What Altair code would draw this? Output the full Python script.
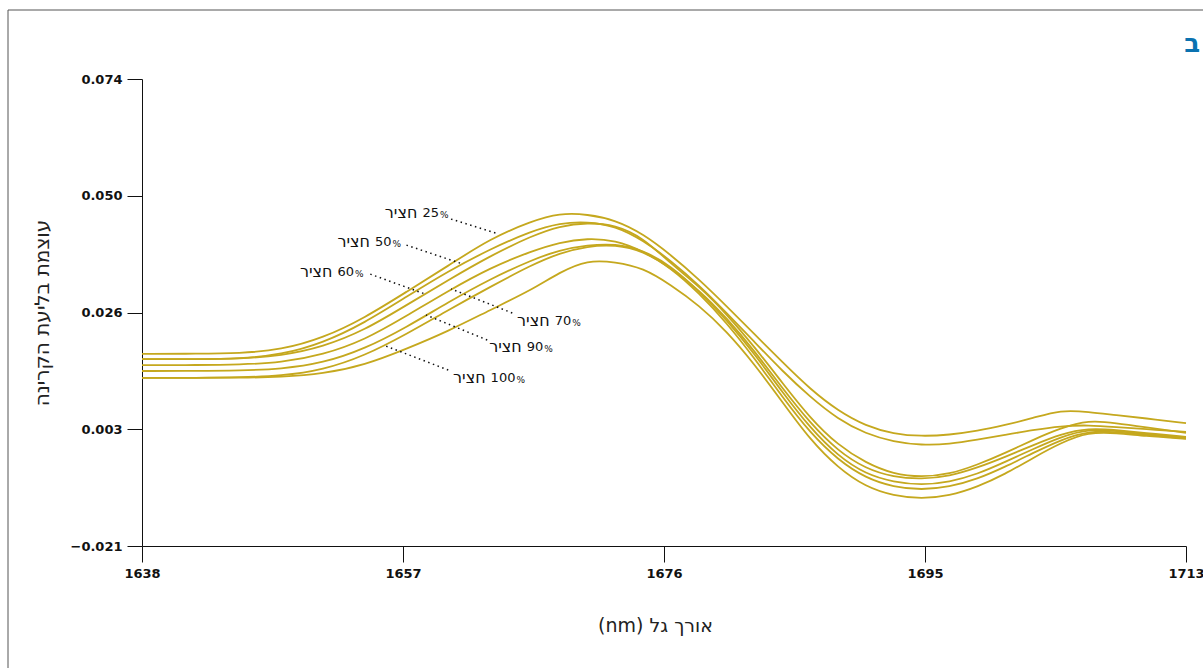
import altair as alt
import pandas as pd

# Wavelength grid (nm) shared by all spectra
WAVELENGTHS = [1638, 1642, 1645, 1648, 1651, 1654, 1657, 1660, 1663, 1666, 1668,
               1670, 1672, 1674, 1676, 1678, 1680, 1682, 1684, 1686, 1688, 1690,
               1692, 1694, 1696, 1698, 1700, 1702, 1704, 1706, 1708, 1710, 1713]

# Absorbance spectra, one list per hay share
HAY_25 = [0.0181, 0.0181, 0.0182, 0.0189, 0.0213, 0.0254, 0.0307, 0.0360, 0.0415, 0.0451, 0.0467,
          0.0465, 0.0453, 0.0425, 0.0382, 0.0333, 0.0278, 0.0221, 0.0164, 0.0109, 0.0065, 0.0034,
          0.0018, 0.0013, 0.0016, 0.0024, 0.0036, 0.0050, 0.0067, 0.0063, 0.0056, 0.0050, 0.0040]
HAY_50 = [0.0170, 0.0170, 0.0171, 0.0179, 0.0203, 0.0244, 0.0297, 0.0349, 0.0394, 0.0431, 0.0447,
          0.0450, 0.0441, 0.0412, 0.0370, 0.0321, 0.0264, 0.0205, 0.0146, 0.0093, 0.0048, 0.0018,
          0.0002, -0.0005, -0.0003, 0.0006, 0.0016, 0.0026, 0.0034, 0.0036, 0.0032, 0.0028, 0.0022]
HAY_60 = [0.0170, 0.0170, 0.0171, 0.0177, 0.0195, 0.0229, 0.0280, 0.0331, 0.0380, 0.0421, 0.0441,
          0.0448, 0.0443, 0.0417, 0.0364, 0.0319, 0.0262, 0.0195, 0.0122, 0.0050, -0.0005, -0.0041,
          -0.0064, -0.0070, -0.0064, -0.0045, -0.0021, 0.0006, 0.0030, 0.0046, 0.0040, 0.0032, 0.0020]
HAY_70 = [0.0158, 0.0158, 0.0159, 0.0163, 0.0179, 0.0209, 0.0258, 0.0309, 0.0356, 0.0390, 0.0408,
          0.0416, 0.0412, 0.0390, 0.0356, 0.0311, 0.0254, 0.0187, 0.0111, 0.0040, -0.0017, -0.0053,
          -0.0070, -0.0074, -0.0068, -0.0051, -0.0029, -0.0005, 0.0018, 0.0030, 0.0026, 0.0020, 0.0012]
HAY_90 = [0.0146, 0.0146, 0.0147, 0.0150, 0.0162, 0.0191, 0.0235, 0.0286, 0.0333, 0.0372, 0.0392,
          0.0402, 0.0405, 0.0392, 0.0360, 0.0309, 0.0250, 0.0181, 0.0103, 0.0030, -0.0027, -0.0064,
          -0.0080, -0.0086, -0.0080, -0.0064, -0.0039, -0.0013, 0.0012, 0.0028, 0.0024, 0.0018, 0.0010]
HAY_100 = [0.0132, 0.0132, 0.0133, 0.0136, 0.0148, 0.0177, 0.0221, 0.0270, 0.0317, 0.0362, 0.0386,
           0.0400, 0.0403, 0.0390, 0.0356, 0.0305, 0.0244, 0.0172, 0.0093, 0.0020, -0.0035, -0.0072,
           -0.0090, -0.0096, -0.0090, -0.0074, -0.0049, -0.0021, 0.0006, 0.0024, 0.0022, 0.0016, 0.0009]
SAMPLE_7 = [0.0132, 0.0132, 0.0132, 0.0134, 0.0140, 0.0158, 0.0191, 0.0227, 0.0270, 0.0311, 0.0347,
            0.0372, 0.0368, 0.0356, 0.0321, 0.0280, 0.0227, 0.0160, 0.0083, 0.0006, -0.0051, -0.0090,
            -0.0108, -0.0114, -0.0108, -0.0090, -0.0064, -0.0031, 0.0000, 0.0022, 0.0020, 0.0014, 0.0008]

SERIES_NAMES = ["25", "50", "60", "70", "90", "100", "s7"]
SERIES_VALUES = [HAY_25, HAY_50, HAY_60, HAY_70, HAY_90, HAY_100, SAMPLE_7]

# Callout labels: word, share number, anchor point (gap between word and number),
# and the dotted leader from label to curve
LABEL_WORD = "חציר"
LABEL_NUM = ["25", "50", "60", "70", "90", "100"]
LABEL_X = [1658.0, 1654.6, 1651.9, 1667.5, 1665.5, 1662.9]
LABEL_Y = [0.0467, 0.0408, 0.0347, 0.0248, 0.0195, 0.0132]
LEADER_X1 = [1660.2, 1657.0, 1654.4, 1664.6, 1662.8, 1660.0]
LEADER_Y1 = [0.0455, 0.0402, 0.0343, 0.0264, 0.0209, 0.0148]
LEADER_X2 = [1663.6, 1661.0, 1658.3, 1660.2, 1658.4, 1655.5]
LEADER_Y2 = [0.0425, 0.0364, 0.0303, 0.0313, 0.0260, 0.0197]

# Axis ticks and their printed labels
X_TICKS = [1638, 1656.75, 1675.5, 1694.25, 1713]
X_TICK_LABELS = ["1638", "1657", "1676", "1695", "1713"]
Y_TICKS = [-0.021, 0.00275, 0.0265, 0.05025, 0.074]
Y_TICK_LABELS = ["\u22120.021", "0.003", "0.026", "0.050", "0.074"]

LINE_COLOR = "#C5A81E"
FONT = "DejaVu Sans"
LABEL_SIZE = 13
WORD_SIZE = 16
DIGIT_W = 0.636 * LABEL_SIZE  # advance of one digit in the label font
W, H = 1044, 467
X_MIN, X_MAX = 1638, 1713
PX_PER_NM = W / (X_MAX - X_MIN)


def label_expr(values, labels):
    expr = "datum.label"
    for v, lab in reversed(list(zip(values, labels))):
        expr = f"abs(datum.value - ({v})) < 1e-6 ? '{lab}' : {expr}"
    return expr


rows = []
for name, vals in zip(SERIES_NAMES, SERIES_VALUES):
    for wl, v in zip(WAVELENGTHS, vals):
        rows.append({"wl": wl, "val": v, "series": name})
spectra = pd.DataFrame(rows)

labels = pd.DataFrame({
    "word": [LABEL_WORD] * len(LABEL_NUM),
    "num": LABEL_NUM,
    "x": LABEL_X,
    "y": LABEL_Y,
    # the small percent sign sits right after the number
    "pct_x": [x + (3 + DIGIT_W * len(n)) / PX_PER_NM for x, n in zip(LABEL_X, LABEL_NUM)],
})
leaders = pd.DataFrame({"x1": LEADER_X1, "y1": LEADER_Y1, "x2": LEADER_X2, "y2": LEADER_Y2})

x_scale = alt.Scale(domain=[X_MIN, X_MAX], nice=False, zero=False)
y_scale = alt.Scale(domain=[-0.021, 0.074], nice=False, zero=False)

axis_style = dict(
    labelFont=FONT, labelFontSize=13, labelFontWeight="bold", labelColor="#111",
    domainColor="#111", tickColor="#111", domainWidth=1, tickWidth=1,
    titleFontWeight="normal", titleFont=FONT, titleColor="#222",
    titleBaseline="middle", labelPadding=5, labelFlush=False, labelOverlap=False,
    grid=False,
)

x_axis = alt.Axis(
    values=X_TICKS, labelExpr=label_expr(X_TICKS, X_TICK_LABELS),
    title="(nm) אורך גל", titleX=513, titleY=79, titleFontSize=19, tickSize=16,
    **axis_style,
)
y_axis = alt.Axis(
    values=Y_TICKS, labelExpr=label_expr(Y_TICKS, Y_TICK_LABELS),
    title="עוצמת בליעת הקרינה", titleX=-100, titleY=H / 2, titleFontSize=20,
    tickSize=15, **axis_style,
)

lines = alt.Chart(spectra).mark_line(
    interpolate="basis", color=LINE_COLOR, strokeWidth=1.8
).encode(
    x=alt.X("wl:Q", scale=x_scale, axis=x_axis),
    y=alt.Y("val:Q", scale=y_scale, axis=y_axis),
    detail="series:N",
)

leader_rules = alt.Chart(leaders).mark_rule(
    color="#111", strokeWidth=1.5, strokeDash=[1.5, 3.5]
).encode(
    x=alt.X("x1:Q", scale=x_scale), y=alt.Y("y1:Q", scale=y_scale),
    x2="x2:Q", y2="y2:Q",
)

word_text = alt.Chart(labels).mark_text(
    align="right", baseline="middle", font=FONT, fontSize=WORD_SIZE, color="#111", dx=-3
).encode(x=alt.X("x:Q", scale=x_scale), y=alt.Y("y:Q", scale=y_scale), text="word:N")
num_text = alt.Chart(labels).mark_text(
    align="left", baseline="middle", font=FONT, fontSize=LABEL_SIZE, color="#111", dx=2
).encode(x=alt.X("x:Q", scale=x_scale), y=alt.Y("y:Q", scale=y_scale), text="num:N")
pct_text = alt.Chart(labels).mark_text(
    align="left", baseline="middle", font=FONT, fontSize=9, color="#111", dy=2
).encode(x=alt.X("pct_x:Q", scale=x_scale), y=alt.Y("y:Q", scale=y_scale),
         text=alt.value("%"))

# Panel letter in the top-right corner
panel_letter = alt.Chart(pd.DataFrame({"t": ["ב"]})).mark_text(
    align="right", baseline="alphabetic", font=FONT, fontSize=26, fontWeight="bold",
    color="#0A72B0"
).encode(x=alt.value(W + 14), y=alt.value(-27), text="t:N")

# Thin frame around the figure
frame = alt.Chart(pd.DataFrame({"k": [0]})).mark_rect(
    filled=False, stroke="#555", strokeWidth=1
).encode(
    x=alt.value(-134), x2=alt.value(W + 60), y=alt.value(-69), y2=alt.value(H + 200)
)

chart = alt.layer(
    frame, lines, leader_rules, word_text, num_text, pct_text, panel_letter
).properties(
    width=W, height=H,
    autosize=alt.AutoSizeParams(type="none"),
    padding={"left": 142, "top": 79, "right": 17, "bottom": 122},
    background="white",
).configure_view(stroke=None)

chart.save("out.html", embed_options={"renderer": "svg", "actions": False})
